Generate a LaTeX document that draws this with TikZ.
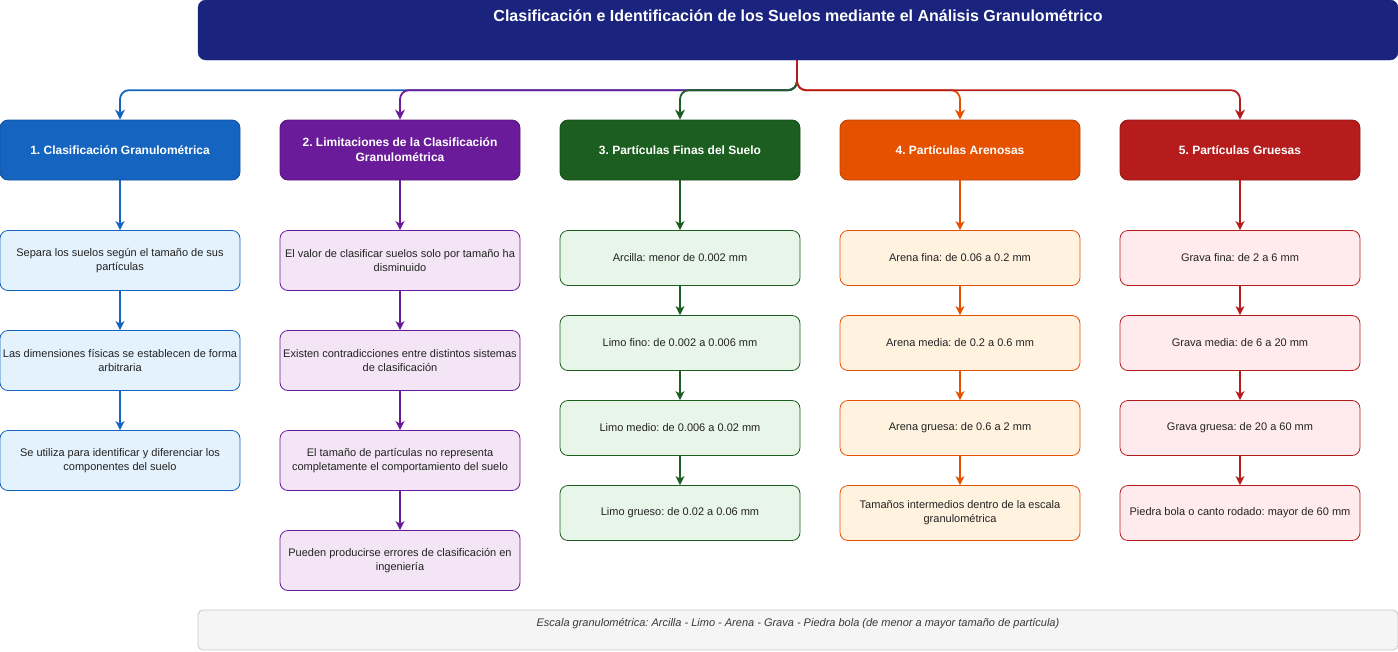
\documentclass[tikz,border=0pt]{standalone}
\usepackage{fontspec}
\setmainfont{Liberation Sans}
\frenchspacing
\usetikzlibrary{arrows.meta}
\definecolor{navy}{HTML}{1A237E}
\definecolor{cA}{HTML}{1565C0}\definecolor{fA}{HTML}{E3F2FD}
\definecolor{cB}{HTML}{6A1B9A}\definecolor{fB}{HTML}{F3E5F5}
\definecolor{cC}{HTML}{1B5E20}\definecolor{fC}{HTML}{E8F5E9}
\definecolor{cD}{HTML}{E65100}\definecolor{fD}{HTML}{FFF3E0}
\definecolor{cE}{HTML}{B71C1C}\definecolor{fE}{HTML}{FFEBEE}
\definecolor{noteF}{HTML}{F5F5F5}\definecolor{noteS}{HTML}{C8C8C8}
\definecolor{txt}{HTML}{222222}
\tikzset{
  titlebox/.style={draw=navy, fill=navy, rounded corners=8pt, minimum width=1200pt,
    inner sep=0pt, text height=21pt, text depth=39pt, text=white,
    font=\fontsize{16}{19}\selectfont\bfseries},
  hdr/.style={draw=#1!80!black, fill=#1, rounded corners=8pt, minimum width=240pt,
    minimum height=60pt, text=white, font=\fontsize{12}{15}\selectfont\bfseries,
    align=center, inner sep=0pt, line width=0.8pt},
  item/.style 2 args={draw=#1, fill=#2, rounded corners=8pt, minimum width=240pt,
    minimum height=60pt, font=\fontsize{11}{14}\selectfont, text=txt,
    align=center, inner sep=0pt, line width=0.8pt},
  short/.style={minimum height=55pt},
  arr/.style={draw=#1, line width=1.3pt, -{Stealth[length=9pt,width=9pt,inset=2.5pt]}},
  toparr/.style={draw=#1, line width=1.8pt, rounded corners=9pt,
    -{Stealth[length=10pt,width=10pt,inset=3pt]}},
  notebox/.style={draw=noteS, fill=noteF, rounded corners=5pt, minimum width=1200pt,
    inner sep=0pt, text height=16pt, text depth=24pt, text=txt!90,
    font=\fontsize{11}{13}\selectfont\itshape, line width=0.8pt}
}
\begin{document}
\begin{tikzpicture}[x=1pt,y=-1pt]
\useasboundingbox (0,0) rectangle (1398,651);
\node[titlebox] (title) at (798,30) {Clasificación e Identificación de los Suelos mediante el Análisis Granulométrico};

\node[hdr=cA] (h1) at (120,150) {1. Clasificación Granulométrica};
\node[hdr=cB] (h2) at (400,150) {2. Limitaciones de la Clasificación\\Granulométrica};
\node[hdr=cC] (h3) at (680,150) {3. Partículas Finas del Suelo};
\node[hdr=cD] (h4) at (960,150) {4. Partículas Arenosas};
\node[hdr=cE] (h5) at (1240,150) {5. Partículas Gruesas};

\node[item={cA}{fA}] (a1) at (120,260.5) {Separa los suelos según el tamaño de sus\\partículas};
\node[item={cA}{fA}] (a2) at (120,360.5) {Las dimensiones físicas se establecen de forma\\arbitraria};
\node[item={cA}{fA}] (a3) at (120,460.5) {Se utiliza para identificar y diferenciar los\\componentes del suelo};

\node[item={cB}{fB}] (b1) at (400,260.5) {El valor de clasificar suelos solo por tamaño ha\\disminuido};
\node[item={cB}{fB}] (b2) at (400,360.5) {Existen contradicciones entre distintos sistemas\\de clasificación};
\node[item={cB}{fB}] (b3) at (400,460.5) {El tamaño de partículas no representa\\completamente el comportamiento del suelo};
\node[item={cB}{fB}] (b4) at (400,560.5) {Pueden producirse errores de clasificación en\\ingeniería};

\node[item={cC}{fC},short] (c1) at (680,258) {Arcilla: menor de 0.002 mm};
\node[item={cC}{fC},short] (c2) at (680,343) {Limo fino: de 0.002 a 0.006 mm};
\node[item={cC}{fC},short] (c3) at (680,428) {Limo medio: de 0.006 a 0.02 mm};
\node[item={cC}{fC},short] (c4) at (680,513) {Limo grueso: de 0.02 a 0.06 mm};

\node[item={cD}{fD},short] (d1) at (960,258) {Arena fina: de 0.06 a 0.2 mm};
\node[item={cD}{fD},short] (d2) at (960,343) {Arena media: de 0.2 a 0.6 mm};
\node[item={cD}{fD},short] (d3) at (960,428) {Arena gruesa: de 0.6 a 2 mm};
\node[item={cD}{fD},short] (d4) at (960,513) {Tamaños intermedios dentro de la escala\\granulométrica};

\node[item={cE}{fE},short] (e1) at (1240,258) {Grava fina: de 2 a 6 mm};
\node[item={cE}{fE},short] (e2) at (1240,343) {Grava media: de 6 a 20 mm};
\node[item={cE}{fE},short] (e3) at (1240,428) {Grava gruesa: de 20 a 60 mm};
\node[item={cE}{fE},short] (e4) at (1240,513) {Piedra bola o canto rodado: mayor de 60 mm};

\node[notebox] (note) at (798,630) {Escala granulométrica: Arcilla - Limo - Arena - Grava - Piedra bola (de menor a mayor tamaño de partícula)};

\draw[toparr=cA] ([xshift=-1pt]title.south) -- ++(0,30) -| (h1.north);
\draw[toparr=cB] ([xshift=-1pt]title.south) -- ++(0,30) -| (h2.north);
\draw[toparr=cC] ([xshift=-1pt]title.south) -- ++(0,30) -| (h3.north);
\draw[toparr=cD] ([xshift=-1pt]title.south) -- ++(0,30) -| (h4.north);
\draw[toparr=cE] ([xshift=-1pt]title.south) -- ++(0,30) -| (h5.north);

\draw[arr=cA] (h1) -- (a1);
\draw[arr=cA] (a1) -- (a2);
\draw[arr=cA] (a2) -- (a3);
\draw[arr=cB] (h2) -- (b1);
\draw[arr=cB] (b1) -- (b2);
\draw[arr=cB] (b2) -- (b3);
\draw[arr=cB] (b3) -- (b4);
\draw[arr=cC] (h3) -- (c1);
\draw[arr=cC] (c1) -- (c2);
\draw[arr=cC] (c2) -- (c3);
\draw[arr=cC] (c3) -- (c4);
\draw[arr=cD] (h4) -- (d1);
\draw[arr=cD] (d1) -- (d2);
\draw[arr=cD] (d2) -- (d3);
\draw[arr=cD] (d3) -- (d4);
\draw[arr=cE] (h5) -- (e1);
\draw[arr=cE] (e1) -- (e2);
\draw[arr=cE] (e2) -- (e3);
\draw[arr=cE] (e3) -- (e4);
\end{tikzpicture}
\end{document}
